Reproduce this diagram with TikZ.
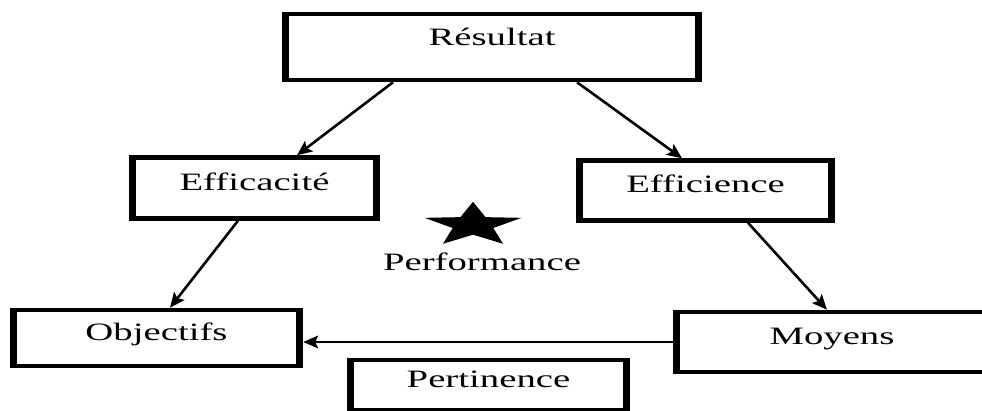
\documentclass[tikz,border=0pt]{standalone}
\usepackage{fontspec}
\usepackage{graphicx}
\setmainfont{Liberation Serif}
\usetikzlibrary{shapes.geometric, arrows.meta, positioning}

\newcommand{\wide}[1]{\scalebox{1.55}[1]{#1}}

\begin{document}
\begin{tikzpicture}[x=1pt, y=1pt,
    box/.style={rectangle, draw, line width=4.5pt, text height=18pt, text depth=13pt, font=\fontsize{25pt}{30pt}\selectfont,
        append after command={([xshift=3.5pt]\tikzlastnode.north west) edge[line width=7pt] ([xshift=3.5pt]\tikzlastnode.south west)
            ([xshift=-3.5pt]\tikzlastnode.north east) edge[line width=7pt] ([xshift=-3.5pt]\tikzlastnode.south east)}},
    link/.style={-{Stealth[length=15pt, width=13pt, inset=3pt]}, line width=2.6pt}]
    \useasboundingbox (0,0) rectangle (982,410);

    % Nodes
    \node (resultat) [box, minimum width=416pt, minimum height=66pt, text depth=20pt] at (492,363) {\wide{Résultat}};

    \node (efficacite) [box, minimum width=247pt, minimum height=61pt, below=73pt of resultat, xshift=-237.5pt] {\wide{Efficacité}};
    \node (efficience) [box, minimum width=255pt, minimum height=60pt, below=76pt of resultat, xshift=213.5pt] {\wide{Efficience}};

    \node (objectifs) [box, minimum width=289pt, minimum height=56pt, below=87pt of efficacite, xshift=-98pt] {\wide{Objectifs}};
    \node (moyens) [box, minimum width=314pt, minimum height=60pt, below=87pt of efficience, xshift=126.5pt] {\wide{Moyens}};

    \node (pertinence) [box, minimum width=279pt, minimum height=50pt] at (488.5,25) {\wide{Pertinence}};

    % star
    \fill[shift={(473,185)}, xscale=2.2] (90:23.2) \foreach \a in {1,...,9} {-- ({90+36*\a}:{mod(\a,2)==1 ? 9.7 : 23.2})} -- cycle;
    \node (performance) [font=\fontsize{25pt}{30pt}\selectfont] at (482,148) {\wide{Performance}};

    % Edges
    \draw[link] ([xshift=-99pt]resultat.south) -- ([xshift=42.5pt]efficacite.north);
    \draw[link] ([xshift=85pt]resultat.south) -- ([xshift=-23.5pt]efficience.north);
    \draw[link] ([xshift=-16.5pt]efficacite.south) -- ([xshift=13.5pt]objectifs.north);
    \draw[link] ([xshift=42.5pt]efficience.south) -- ([xshift=-5pt]moyens.north);
    \draw[link, line width=1.6pt] (moyens.west) -- (moyens.west -| objectifs.east);
\end{tikzpicture}
\end{document}
